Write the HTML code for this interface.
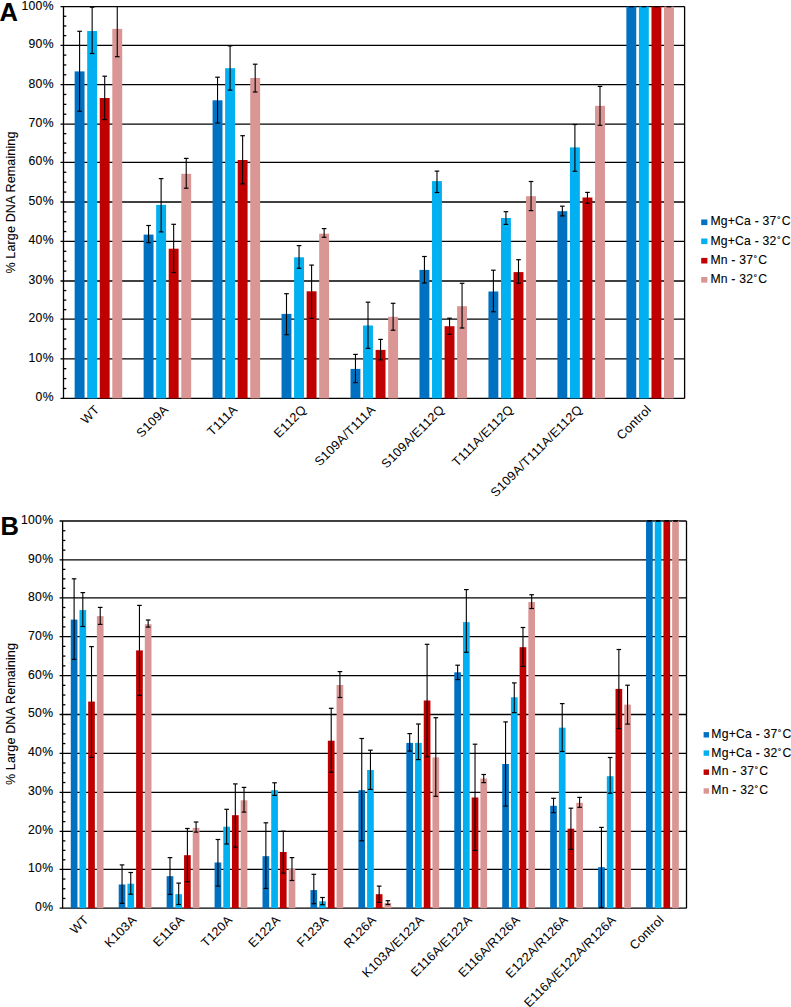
<!DOCTYPE html>
<html><head><meta charset="utf-8"><title>Large DNA Remaining</title>
<style>
html,body{margin:0;padding:0;background:#fff;}
body{width:791px;height:1007px;overflow:hidden;}
svg{display:block;}
text{font-family:"Liberation Sans", sans-serif;fill:#000;stroke:#000;stroke-width:0.1px;}
.gl{stroke:#000;stroke-width:1.3;}
.ax{stroke:#000;stroke-width:1.3;}
.eb{stroke:#000;stroke-width:1.1;}
.ec{stroke:#000;stroke-width:1.2;}
.yl{font-size:12.2px;text-anchor:end;letter-spacing:0.3px;}
.tt{font-size:12.5px;text-anchor:middle;letter-spacing:0.15px;}
.xl{font-size:12.6px;text-anchor:end;letter-spacing:0.3px;stroke:none;}
.lt{font-size:25.5px;font-weight:bold;}
.lg{font-size:12.2px;letter-spacing:0.22px;}
</style></head><body>
<svg width="791" height="1007" viewBox="0 0 791 1007">
<g>
<rect width="791" height="1007" fill="#fff"/>
<line x1="60.5" y1="6.6" x2="684.6" y2="6.6" class="gl"/>
<line x1="60.5" y1="45.3" x2="684.6" y2="45.3" class="gl"/>
<line x1="60.5" y1="84.6" x2="684.6" y2="84.6" class="gl"/>
<line x1="60.5" y1="124.1" x2="684.6" y2="124.1" class="gl"/>
<line x1="60.5" y1="162.35" x2="684.6" y2="162.35" class="gl"/>
<line x1="60.5" y1="202" x2="684.6" y2="202" class="gl"/>
<line x1="60.5" y1="241.4" x2="684.6" y2="241.4" class="gl"/>
<line x1="60.5" y1="281" x2="684.6" y2="281" class="gl"/>
<line x1="60.5" y1="319.2" x2="684.6" y2="319.2" class="gl"/>
<line x1="60.5" y1="358.8" x2="684.6" y2="358.8" class="gl"/>
<line x1="60.5" y1="398.4" x2="684.6" y2="398.4" class="gl"/>
<line x1="63.5" y1="388.5" x2="66.3" y2="388.5" class="gl"/>
<line x1="63.5" y1="378.6" x2="66.3" y2="378.6" class="gl"/>
<line x1="63.5" y1="368.7" x2="66.3" y2="368.7" class="gl"/>
<line x1="63.5" y1="348.9" x2="66.3" y2="348.9" class="gl"/>
<line x1="63.5" y1="339" x2="66.3" y2="339" class="gl"/>
<line x1="63.5" y1="329.1" x2="66.3" y2="329.1" class="gl"/>
<line x1="63.5" y1="309.65" x2="66.3" y2="309.65" class="gl"/>
<line x1="63.5" y1="300.1" x2="66.3" y2="300.1" class="gl"/>
<line x1="63.5" y1="290.55" x2="66.3" y2="290.55" class="gl"/>
<line x1="63.5" y1="271.1" x2="66.3" y2="271.1" class="gl"/>
<line x1="63.5" y1="261.2" x2="66.3" y2="261.2" class="gl"/>
<line x1="63.5" y1="251.3" x2="66.3" y2="251.3" class="gl"/>
<line x1="63.5" y1="231.55" x2="66.3" y2="231.55" class="gl"/>
<line x1="63.5" y1="221.7" x2="66.3" y2="221.7" class="gl"/>
<line x1="63.5" y1="211.85" x2="66.3" y2="211.85" class="gl"/>
<line x1="63.5" y1="192.09" x2="66.3" y2="192.09" class="gl"/>
<line x1="63.5" y1="182.18" x2="66.3" y2="182.18" class="gl"/>
<line x1="63.5" y1="172.26" x2="66.3" y2="172.26" class="gl"/>
<line x1="63.5" y1="152.79" x2="66.3" y2="152.79" class="gl"/>
<line x1="63.5" y1="143.22" x2="66.3" y2="143.22" class="gl"/>
<line x1="63.5" y1="133.66" x2="66.3" y2="133.66" class="gl"/>
<line x1="63.5" y1="114.22" x2="66.3" y2="114.22" class="gl"/>
<line x1="63.5" y1="104.35" x2="66.3" y2="104.35" class="gl"/>
<line x1="63.5" y1="94.47" x2="66.3" y2="94.47" class="gl"/>
<line x1="63.5" y1="74.77" x2="66.3" y2="74.77" class="gl"/>
<line x1="63.5" y1="64.95" x2="66.3" y2="64.95" class="gl"/>
<line x1="63.5" y1="55.12" x2="66.3" y2="55.12" class="gl"/>
<line x1="63.5" y1="35.62" x2="66.3" y2="35.62" class="gl"/>
<line x1="63.5" y1="25.95" x2="66.3" y2="25.95" class="gl"/>
<line x1="63.5" y1="16.27" x2="66.3" y2="16.27" class="gl"/>
<rect x="74.65" y="71.4" width="9.9" height="327" fill="#0070C0"/>
<rect x="87.2" y="31" width="9.9" height="367.4" fill="#00B0F0"/>
<rect x="99.75" y="98" width="9.9" height="300.4" fill="#C00000"/>
<rect x="112.3" y="28.9" width="9.9" height="369.5" fill="#D99694"/>
<rect x="143.62" y="234.6" width="9.9" height="163.8" fill="#0070C0"/>
<rect x="156.17" y="204.9" width="9.9" height="193.5" fill="#00B0F0"/>
<rect x="168.72" y="248.7" width="9.9" height="149.7" fill="#C00000"/>
<rect x="181.27" y="173.8" width="9.9" height="224.6" fill="#D99694"/>
<rect x="212.58" y="100.3" width="9.9" height="298.1" fill="#0070C0"/>
<rect x="225.13" y="68.2" width="9.9" height="330.2" fill="#00B0F0"/>
<rect x="237.68" y="160" width="9.9" height="238.4" fill="#C00000"/>
<rect x="250.23" y="78" width="9.9" height="320.4" fill="#D99694"/>
<rect x="281.54" y="313.9" width="9.9" height="84.5" fill="#0070C0"/>
<rect x="294.09" y="257.3" width="9.9" height="141.1" fill="#00B0F0"/>
<rect x="306.64" y="291.3" width="9.9" height="107.1" fill="#C00000"/>
<rect x="319.19" y="233.7" width="9.9" height="164.7" fill="#D99694"/>
<rect x="350.51" y="368.9" width="9.9" height="29.5" fill="#0070C0"/>
<rect x="363.06" y="325.5" width="9.9" height="72.9" fill="#00B0F0"/>
<rect x="375.61" y="349.9" width="9.9" height="48.5" fill="#C00000"/>
<rect x="388.16" y="316.8" width="9.9" height="81.6" fill="#D99694"/>
<rect x="419.48" y="269.9" width="9.9" height="128.5" fill="#0070C0"/>
<rect x="432.03" y="181.1" width="9.9" height="217.3" fill="#00B0F0"/>
<rect x="444.58" y="326.2" width="9.9" height="72.2" fill="#C00000"/>
<rect x="457.12" y="306.2" width="9.9" height="92.2" fill="#D99694"/>
<rect x="488.44" y="291.5" width="9.9" height="106.9" fill="#0070C0"/>
<rect x="500.99" y="218" width="9.9" height="180.4" fill="#00B0F0"/>
<rect x="513.54" y="272.1" width="9.9" height="126.3" fill="#C00000"/>
<rect x="526.09" y="196.2" width="9.9" height="202.2" fill="#D99694"/>
<rect x="557.4" y="211.2" width="9.9" height="187.2" fill="#0070C0"/>
<rect x="569.95" y="147.4" width="9.9" height="251" fill="#00B0F0"/>
<rect x="582.5" y="197.5" width="9.9" height="200.9" fill="#C00000"/>
<rect x="595.05" y="105.8" width="9.9" height="292.6" fill="#D99694"/>
<rect x="626.37" y="6.6" width="9.9" height="391.8" fill="#0070C0"/>
<rect x="638.92" y="6.6" width="9.9" height="391.8" fill="#00B0F0"/>
<rect x="651.47" y="6.6" width="9.9" height="391.8" fill="#C00000"/>
<rect x="664.02" y="6.6" width="9.9" height="391.8" fill="#D99694"/>
<line x1="79.6" y1="31.3" x2="79.6" y2="111.3" class="eb"/>
<line x1="77.3" y1="31.3" x2="81.9" y2="31.3" class="ec"/>
<line x1="77.3" y1="111.3" x2="81.9" y2="111.3" class="ec"/>
<line x1="92.15" y1="7.2" x2="92.15" y2="53.5" class="eb"/>
<line x1="89.85" y1="7.2" x2="94.45" y2="7.2" class="ec"/>
<line x1="89.85" y1="53.5" x2="94.45" y2="53.5" class="ec"/>
<line x1="104.7" y1="76.2" x2="104.7" y2="119.6" class="eb"/>
<line x1="102.4" y1="76.2" x2="107" y2="76.2" class="ec"/>
<line x1="102.4" y1="119.6" x2="107" y2="119.6" class="ec"/>
<line x1="117.25" y1="6.6" x2="117.25" y2="56.7" class="eb"/>
<line x1="114.95" y1="56.7" x2="119.55" y2="56.7" class="ec"/>
<line x1="148.56" y1="225.5" x2="148.56" y2="242.6" class="eb"/>
<line x1="146.26" y1="225.5" x2="150.87" y2="225.5" class="ec"/>
<line x1="146.26" y1="242.6" x2="150.87" y2="242.6" class="ec"/>
<line x1="161.12" y1="178.6" x2="161.12" y2="231.9" class="eb"/>
<line x1="158.81" y1="178.6" x2="163.42" y2="178.6" class="ec"/>
<line x1="158.81" y1="231.9" x2="163.42" y2="231.9" class="ec"/>
<line x1="173.66" y1="224.3" x2="173.66" y2="272.5" class="eb"/>
<line x1="171.36" y1="224.3" x2="175.97" y2="224.3" class="ec"/>
<line x1="171.36" y1="272.5" x2="175.97" y2="272.5" class="ec"/>
<line x1="186.22" y1="158.4" x2="186.22" y2="188.2" class="eb"/>
<line x1="183.91" y1="158.4" x2="188.52" y2="158.4" class="ec"/>
<line x1="183.91" y1="188.2" x2="188.52" y2="188.2" class="ec"/>
<line x1="217.53" y1="77.2" x2="217.53" y2="123" class="eb"/>
<line x1="215.23" y1="77.2" x2="219.83" y2="77.2" class="ec"/>
<line x1="215.23" y1="123" x2="219.83" y2="123" class="ec"/>
<line x1="230.08" y1="45.9" x2="230.08" y2="90.1" class="eb"/>
<line x1="227.78" y1="45.9" x2="232.38" y2="45.9" class="ec"/>
<line x1="227.78" y1="90.1" x2="232.38" y2="90.1" class="ec"/>
<line x1="242.63" y1="135.7" x2="242.63" y2="183.9" class="eb"/>
<line x1="240.33" y1="135.7" x2="244.93" y2="135.7" class="ec"/>
<line x1="240.33" y1="183.9" x2="244.93" y2="183.9" class="ec"/>
<line x1="255.18" y1="64.2" x2="255.18" y2="92" class="eb"/>
<line x1="252.88" y1="64.2" x2="257.48" y2="64.2" class="ec"/>
<line x1="252.88" y1="92" x2="257.48" y2="92" class="ec"/>
<line x1="286.49" y1="293.7" x2="286.49" y2="334.7" class="eb"/>
<line x1="284.19" y1="293.7" x2="288.79" y2="293.7" class="ec"/>
<line x1="284.19" y1="334.7" x2="288.79" y2="334.7" class="ec"/>
<line x1="299.04" y1="245.6" x2="299.04" y2="268.3" class="eb"/>
<line x1="296.74" y1="245.6" x2="301.34" y2="245.6" class="ec"/>
<line x1="296.74" y1="268.3" x2="301.34" y2="268.3" class="ec"/>
<line x1="311.59" y1="265.1" x2="311.59" y2="318.3" class="eb"/>
<line x1="309.29" y1="265.1" x2="313.89" y2="265.1" class="ec"/>
<line x1="309.29" y1="318.3" x2="313.89" y2="318.3" class="ec"/>
<line x1="324.14" y1="228.6" x2="324.14" y2="237.3" class="eb"/>
<line x1="321.84" y1="228.6" x2="326.44" y2="228.6" class="ec"/>
<line x1="321.84" y1="237.3" x2="326.44" y2="237.3" class="ec"/>
<line x1="355.46" y1="354.4" x2="355.46" y2="382.6" class="eb"/>
<line x1="353.16" y1="354.4" x2="357.76" y2="354.4" class="ec"/>
<line x1="353.16" y1="382.6" x2="357.76" y2="382.6" class="ec"/>
<line x1="368.01" y1="302.2" x2="368.01" y2="348.4" class="eb"/>
<line x1="365.71" y1="302.2" x2="370.31" y2="302.2" class="ec"/>
<line x1="365.71" y1="348.4" x2="370.31" y2="348.4" class="ec"/>
<line x1="380.56" y1="339.4" x2="380.56" y2="359.9" class="eb"/>
<line x1="378.26" y1="339.4" x2="382.86" y2="339.4" class="ec"/>
<line x1="378.26" y1="359.9" x2="382.86" y2="359.9" class="ec"/>
<line x1="393.11" y1="303.3" x2="393.11" y2="330.2" class="eb"/>
<line x1="390.81" y1="303.3" x2="395.41" y2="303.3" class="ec"/>
<line x1="390.81" y1="330.2" x2="395.41" y2="330.2" class="ec"/>
<line x1="424.43" y1="256.5" x2="424.43" y2="283" class="eb"/>
<line x1="422.12" y1="256.5" x2="426.73" y2="256.5" class="ec"/>
<line x1="422.12" y1="283" x2="426.73" y2="283" class="ec"/>
<line x1="436.98" y1="171.1" x2="436.98" y2="192.5" class="eb"/>
<line x1="434.68" y1="171.1" x2="439.28" y2="171.1" class="ec"/>
<line x1="434.68" y1="192.5" x2="439.28" y2="192.5" class="ec"/>
<line x1="449.53" y1="318.2" x2="449.53" y2="334.3" class="eb"/>
<line x1="447.23" y1="318.2" x2="451.83" y2="318.2" class="ec"/>
<line x1="447.23" y1="334.3" x2="451.83" y2="334.3" class="ec"/>
<line x1="462.07" y1="283.3" x2="462.07" y2="328" class="eb"/>
<line x1="459.77" y1="283.3" x2="464.38" y2="283.3" class="ec"/>
<line x1="459.77" y1="328" x2="464.38" y2="328" class="ec"/>
<line x1="493.39" y1="270.2" x2="493.39" y2="311.8" class="eb"/>
<line x1="491.09" y1="270.2" x2="495.69" y2="270.2" class="ec"/>
<line x1="491.09" y1="311.8" x2="495.69" y2="311.8" class="ec"/>
<line x1="505.94" y1="211.7" x2="505.94" y2="224.4" class="eb"/>
<line x1="503.64" y1="211.7" x2="508.24" y2="211.7" class="ec"/>
<line x1="503.64" y1="224.4" x2="508.24" y2="224.4" class="ec"/>
<line x1="518.49" y1="259.7" x2="518.49" y2="283.2" class="eb"/>
<line x1="516.19" y1="259.7" x2="520.79" y2="259.7" class="ec"/>
<line x1="516.19" y1="283.2" x2="520.79" y2="283.2" class="ec"/>
<line x1="531.04" y1="181.5" x2="531.04" y2="210.6" class="eb"/>
<line x1="528.74" y1="181.5" x2="533.34" y2="181.5" class="ec"/>
<line x1="528.74" y1="210.6" x2="533.34" y2="210.6" class="ec"/>
<line x1="562.36" y1="206.2" x2="562.36" y2="215.9" class="eb"/>
<line x1="560.06" y1="206.2" x2="564.65" y2="206.2" class="ec"/>
<line x1="560.06" y1="215.9" x2="564.65" y2="215.9" class="ec"/>
<line x1="574.9" y1="124.5" x2="574.9" y2="171.3" class="eb"/>
<line x1="572.61" y1="124.5" x2="577.2" y2="124.5" class="ec"/>
<line x1="572.61" y1="171.3" x2="577.2" y2="171.3" class="ec"/>
<line x1="587.46" y1="192.4" x2="587.46" y2="203.2" class="eb"/>
<line x1="585.16" y1="192.4" x2="589.75" y2="192.4" class="ec"/>
<line x1="585.16" y1="203.2" x2="589.75" y2="203.2" class="ec"/>
<line x1="600" y1="86.4" x2="600" y2="125.3" class="eb"/>
<line x1="597.71" y1="86.4" x2="602.3" y2="86.4" class="ec"/>
<line x1="597.71" y1="125.3" x2="602.3" y2="125.3" class="ec"/>
<line x1="629.02" y1="6.6" x2="633.62" y2="6.6" class="ec"/>
<line x1="629.02" y1="6.6" x2="633.62" y2="6.6" class="ec"/>
<line x1="641.57" y1="6.6" x2="646.17" y2="6.6" class="ec"/>
<line x1="641.57" y1="6.6" x2="646.17" y2="6.6" class="ec"/>
<line x1="654.12" y1="6.6" x2="658.72" y2="6.6" class="ec"/>
<line x1="654.12" y1="6.6" x2="658.72" y2="6.6" class="ec"/>
<line x1="666.67" y1="6.6" x2="671.27" y2="6.6" class="ec"/>
<line x1="666.67" y1="6.6" x2="671.27" y2="6.6" class="ec"/>
<line x1="63.5" y1="6.6" x2="63.5" y2="398.4" class="ax"/>
<line x1="684.6" y1="6.6" x2="684.6" y2="398.4" class="ax"/>
<text x="53.8" y="9.5" class="yl">100%</text>
<text x="53.8" y="48.2" class="yl">90%</text>
<text x="53.8" y="87.5" class="yl">80%</text>
<text x="53.8" y="127" class="yl">70%</text>
<text x="53.8" y="165.25" class="yl">60%</text>
<text x="53.8" y="204.9" class="yl">50%</text>
<text x="53.8" y="244.3" class="yl">40%</text>
<text x="53.8" y="283.9" class="yl">30%</text>
<text x="53.8" y="322.1" class="yl">20%</text>
<text x="53.8" y="361.7" class="yl">10%</text>
<text x="53.8" y="401.3" class="yl">0%</text>
<text transform="translate(14.6,202.5) rotate(-90)" class="tt">% Large DNA Remaining</text>
<text transform="translate(100.28,410.4) rotate(-45)" class="xl" style="letter-spacing:0.3px">WT</text>
<text transform="translate(169.25,410.4) rotate(-45)" class="xl" style="letter-spacing:0.3px">S109A</text>
<text transform="translate(238.21,410.4) rotate(-45)" class="xl" style="letter-spacing:0.3px">T111A</text>
<text transform="translate(307.18,410.4) rotate(-45)" class="xl" style="letter-spacing:0.3px">E112Q</text>
<text transform="translate(376.14,410.4) rotate(-45)" class="xl" style="letter-spacing:0.3px">S109A/T111A</text>
<text transform="translate(445.11,410.4) rotate(-45)" class="xl" style="letter-spacing:0.3px">S109A/E112Q</text>
<text transform="translate(514.07,410.4) rotate(-45)" class="xl" style="letter-spacing:0.3px">T111A/E112Q</text>
<text transform="translate(583.04,410.4) rotate(-45)" class="xl" style="letter-spacing:0.3px">S109A/T111A/E112Q</text>
<text transform="translate(652,410.4) rotate(-45)" class="xl" style="letter-spacing:0.3px">Control</text>
<text x="-0.6" y="20.8" class="lt">A</text>
<rect x="701.2" y="219.5" width="6.2" height="5.6" fill="#0070C0"/>
<text x="710.4" y="225.3" class="lg">Mg+Ca - 37<tspan dx="0.6" style="font-size:10.5px;letter-spacing:0.9px">˚</tspan>C</text>
<rect x="701.2" y="238.5" width="6.2" height="5.6" fill="#00B0F0"/>
<text x="710.4" y="244.5" class="lg">Mg+Ca - 32<tspan dx="0.6" style="font-size:10.5px;letter-spacing:0.9px">˚</tspan>C</text>
<rect x="701.2" y="257.9" width="6.2" height="5.6" fill="#C00000"/>
<text x="710.4" y="264" class="lg">Mn - 37<tspan dx="0.6" style="font-size:10.5px;letter-spacing:0.9px">˚</tspan>C</text>
<rect x="701.2" y="277" width="6.2" height="5.6" fill="#D99694"/>
<text x="710.4" y="282.8" class="lg">Mn - 32<tspan dx="0.6" style="font-size:10.5px;letter-spacing:0.9px">˚</tspan>C</text>
<line x1="59.6" y1="521" x2="686.5" y2="521" class="gl"/>
<line x1="59.6" y1="559.9" x2="686.5" y2="559.9" class="gl"/>
<line x1="59.6" y1="597.8" x2="686.5" y2="597.8" class="gl"/>
<line x1="59.6" y1="636.6" x2="686.5" y2="636.6" class="gl"/>
<line x1="59.6" y1="675.6" x2="686.5" y2="675.6" class="gl"/>
<line x1="59.6" y1="714.5" x2="686.5" y2="714.5" class="gl"/>
<line x1="59.6" y1="753.3" x2="686.5" y2="753.3" class="gl"/>
<line x1="59.6" y1="792.3" x2="686.5" y2="792.3" class="gl"/>
<line x1="59.6" y1="831.4" x2="686.5" y2="831.4" class="gl"/>
<line x1="59.6" y1="869.3" x2="686.5" y2="869.3" class="gl"/>
<line x1="59.6" y1="908.2" x2="686.5" y2="908.2" class="gl"/>
<line x1="62.6" y1="898.48" x2="65.4" y2="898.48" class="gl"/>
<line x1="62.6" y1="888.75" x2="65.4" y2="888.75" class="gl"/>
<line x1="62.6" y1="879.02" x2="65.4" y2="879.02" class="gl"/>
<line x1="62.6" y1="859.82" x2="65.4" y2="859.82" class="gl"/>
<line x1="62.6" y1="850.35" x2="65.4" y2="850.35" class="gl"/>
<line x1="62.6" y1="840.88" x2="65.4" y2="840.88" class="gl"/>
<line x1="62.6" y1="821.62" x2="65.4" y2="821.62" class="gl"/>
<line x1="62.6" y1="811.85" x2="65.4" y2="811.85" class="gl"/>
<line x1="62.6" y1="802.07" x2="65.4" y2="802.07" class="gl"/>
<line x1="62.6" y1="782.55" x2="65.4" y2="782.55" class="gl"/>
<line x1="62.6" y1="772.8" x2="65.4" y2="772.8" class="gl"/>
<line x1="62.6" y1="763.05" x2="65.4" y2="763.05" class="gl"/>
<line x1="62.6" y1="743.6" x2="65.4" y2="743.6" class="gl"/>
<line x1="62.6" y1="733.9" x2="65.4" y2="733.9" class="gl"/>
<line x1="62.6" y1="724.2" x2="65.4" y2="724.2" class="gl"/>
<line x1="62.6" y1="704.77" x2="65.4" y2="704.77" class="gl"/>
<line x1="62.6" y1="695.05" x2="65.4" y2="695.05" class="gl"/>
<line x1="62.6" y1="685.33" x2="65.4" y2="685.33" class="gl"/>
<line x1="62.6" y1="665.85" x2="65.4" y2="665.85" class="gl"/>
<line x1="62.6" y1="656.1" x2="65.4" y2="656.1" class="gl"/>
<line x1="62.6" y1="646.35" x2="65.4" y2="646.35" class="gl"/>
<line x1="62.6" y1="626.9" x2="65.4" y2="626.9" class="gl"/>
<line x1="62.6" y1="617.2" x2="65.4" y2="617.2" class="gl"/>
<line x1="62.6" y1="607.5" x2="65.4" y2="607.5" class="gl"/>
<line x1="62.6" y1="588.32" x2="65.4" y2="588.32" class="gl"/>
<line x1="62.6" y1="578.85" x2="65.4" y2="578.85" class="gl"/>
<line x1="62.6" y1="569.38" x2="65.4" y2="569.38" class="gl"/>
<line x1="62.6" y1="550.17" x2="65.4" y2="550.17" class="gl"/>
<line x1="62.6" y1="540.45" x2="65.4" y2="540.45" class="gl"/>
<line x1="62.6" y1="530.73" x2="65.4" y2="530.73" class="gl"/>
<rect x="70.76" y="619.6" width="6.7" height="288.6" fill="#0070C0"/>
<rect x="79.46" y="610.1" width="6.7" height="298.1" fill="#00B0F0"/>
<rect x="88.16" y="701.6" width="6.7" height="206.6" fill="#C00000"/>
<rect x="96.86" y="616.1" width="6.7" height="292.1" fill="#D99694"/>
<rect x="118.7" y="884.5" width="6.7" height="23.7" fill="#0070C0"/>
<rect x="127.4" y="883.7" width="6.7" height="24.5" fill="#00B0F0"/>
<rect x="136.1" y="650.4" width="6.7" height="257.8" fill="#C00000"/>
<rect x="144.8" y="624.2" width="6.7" height="284" fill="#D99694"/>
<rect x="166.64" y="876.2" width="6.7" height="32" fill="#0070C0"/>
<rect x="175.34" y="894.2" width="6.7" height="14" fill="#00B0F0"/>
<rect x="184.04" y="855.2" width="6.7" height="53" fill="#C00000"/>
<rect x="192.74" y="827.9" width="6.7" height="80.3" fill="#D99694"/>
<rect x="214.58" y="862.5" width="6.7" height="45.7" fill="#0070C0"/>
<rect x="223.28" y="826.7" width="6.7" height="81.5" fill="#00B0F0"/>
<rect x="231.98" y="815.2" width="6.7" height="93" fill="#C00000"/>
<rect x="240.68" y="800.3" width="6.7" height="107.9" fill="#D99694"/>
<rect x="262.52" y="856.2" width="6.7" height="52" fill="#0070C0"/>
<rect x="271.22" y="790.2" width="6.7" height="118" fill="#00B0F0"/>
<rect x="279.92" y="852" width="6.7" height="56.2" fill="#C00000"/>
<rect x="288.62" y="869" width="6.7" height="39.2" fill="#D99694"/>
<rect x="310.46" y="890.1" width="6.7" height="18.1" fill="#0070C0"/>
<rect x="319.16" y="901.3" width="6.7" height="6.9" fill="#00B0F0"/>
<rect x="327.86" y="740.7" width="6.7" height="167.5" fill="#C00000"/>
<rect x="336.56" y="685" width="6.7" height="223.2" fill="#D99694"/>
<rect x="358.4" y="790.2" width="6.7" height="118" fill="#0070C0"/>
<rect x="367.1" y="770" width="6.7" height="138.2" fill="#00B0F0"/>
<rect x="375.8" y="894.2" width="6.7" height="14" fill="#C00000"/>
<rect x="384.5" y="902.9" width="6.7" height="5.3" fill="#D99694"/>
<rect x="406.34" y="742.9" width="6.7" height="165.3" fill="#0070C0"/>
<rect x="415.04" y="742.9" width="6.7" height="165.3" fill="#00B0F0"/>
<rect x="423.74" y="700.5" width="6.7" height="207.7" fill="#C00000"/>
<rect x="432.44" y="757.4" width="6.7" height="150.8" fill="#D99694"/>
<rect x="454.28" y="672.3" width="6.7" height="235.9" fill="#0070C0"/>
<rect x="462.98" y="622.1" width="6.7" height="286.1" fill="#00B0F0"/>
<rect x="471.68" y="797.5" width="6.7" height="110.7" fill="#C00000"/>
<rect x="480.38" y="778.5" width="6.7" height="129.7" fill="#D99694"/>
<rect x="502.22" y="764" width="6.7" height="144.2" fill="#0070C0"/>
<rect x="510.92" y="697.3" width="6.7" height="210.9" fill="#00B0F0"/>
<rect x="519.62" y="647.2" width="6.7" height="261" fill="#C00000"/>
<rect x="528.32" y="602" width="6.7" height="306.2" fill="#D99694"/>
<rect x="550.16" y="805.8" width="6.7" height="102.4" fill="#0070C0"/>
<rect x="558.86" y="727.7" width="6.7" height="180.5" fill="#00B0F0"/>
<rect x="567.56" y="828.7" width="6.7" height="79.5" fill="#C00000"/>
<rect x="576.26" y="802.8" width="6.7" height="105.4" fill="#D99694"/>
<rect x="598.1" y="867.2" width="6.7" height="41" fill="#0070C0"/>
<rect x="606.8" y="776.2" width="6.7" height="132" fill="#00B0F0"/>
<rect x="615.5" y="688.9" width="6.7" height="219.3" fill="#C00000"/>
<rect x="624.2" y="704.6" width="6.7" height="203.6" fill="#D99694"/>
<rect x="646.04" y="521" width="6.7" height="387.2" fill="#0070C0"/>
<rect x="654.74" y="521" width="6.7" height="387.2" fill="#00B0F0"/>
<rect x="663.44" y="521" width="6.7" height="387.2" fill="#C00000"/>
<rect x="672.14" y="521" width="6.7" height="387.2" fill="#D99694"/>
<line x1="74.11" y1="578.8" x2="74.11" y2="659.4" class="eb"/>
<line x1="71.81" y1="578.8" x2="76.41" y2="578.8" class="ec"/>
<line x1="71.81" y1="659.4" x2="76.41" y2="659.4" class="ec"/>
<line x1="82.81" y1="592.6" x2="82.81" y2="626.5" class="eb"/>
<line x1="80.51" y1="592.6" x2="85.11" y2="592.6" class="ec"/>
<line x1="80.51" y1="626.5" x2="85.11" y2="626.5" class="ec"/>
<line x1="91.51" y1="646.6" x2="91.51" y2="757.4" class="eb"/>
<line x1="89.21" y1="646.6" x2="93.81" y2="646.6" class="ec"/>
<line x1="89.21" y1="757.4" x2="93.81" y2="757.4" class="ec"/>
<line x1="100.21" y1="607.4" x2="100.21" y2="624.4" class="eb"/>
<line x1="97.91" y1="607.4" x2="102.51" y2="607.4" class="ec"/>
<line x1="97.91" y1="624.4" x2="102.51" y2="624.4" class="ec"/>
<line x1="122.05" y1="864.9" x2="122.05" y2="903.4" class="eb"/>
<line x1="119.75" y1="864.9" x2="124.35" y2="864.9" class="ec"/>
<line x1="119.75" y1="903.4" x2="124.35" y2="903.4" class="ec"/>
<line x1="130.75" y1="872.5" x2="130.75" y2="894.2" class="eb"/>
<line x1="128.45" y1="872.5" x2="133.05" y2="872.5" class="ec"/>
<line x1="128.45" y1="894.2" x2="133.05" y2="894.2" class="ec"/>
<line x1="139.45" y1="605.4" x2="139.45" y2="695.4" class="eb"/>
<line x1="137.15" y1="605.4" x2="141.75" y2="605.4" class="ec"/>
<line x1="137.15" y1="695.4" x2="141.75" y2="695.4" class="ec"/>
<line x1="148.15" y1="620" x2="148.15" y2="627.1" class="eb"/>
<line x1="145.85" y1="620" x2="150.45" y2="620" class="ec"/>
<line x1="145.85" y1="627.1" x2="150.45" y2="627.1" class="ec"/>
<line x1="169.99" y1="857.6" x2="169.99" y2="894.4" class="eb"/>
<line x1="167.69" y1="857.6" x2="172.29" y2="857.6" class="ec"/>
<line x1="167.69" y1="894.4" x2="172.29" y2="894.4" class="ec"/>
<line x1="178.69" y1="883.1" x2="178.69" y2="904.5" class="eb"/>
<line x1="176.39" y1="883.1" x2="180.99" y2="883.1" class="ec"/>
<line x1="176.39" y1="904.5" x2="180.99" y2="904.5" class="ec"/>
<line x1="187.39" y1="828.5" x2="187.39" y2="881.7" class="eb"/>
<line x1="185.09" y1="828.5" x2="189.69" y2="828.5" class="ec"/>
<line x1="185.09" y1="881.7" x2="189.69" y2="881.7" class="ec"/>
<line x1="196.09" y1="822" x2="196.09" y2="832.1" class="eb"/>
<line x1="193.79" y1="822" x2="198.39" y2="822" class="ec"/>
<line x1="193.79" y1="832.1" x2="198.39" y2="832.1" class="ec"/>
<line x1="217.93" y1="839.5" x2="217.93" y2="886.1" class="eb"/>
<line x1="215.63" y1="839.5" x2="220.23" y2="839.5" class="ec"/>
<line x1="215.63" y1="886.1" x2="220.23" y2="886.1" class="ec"/>
<line x1="226.63" y1="809.3" x2="226.63" y2="844" class="eb"/>
<line x1="224.33" y1="809.3" x2="228.93" y2="809.3" class="ec"/>
<line x1="224.33" y1="844" x2="228.93" y2="844" class="ec"/>
<line x1="235.33" y1="783.9" x2="235.33" y2="847.2" class="eb"/>
<line x1="233.03" y1="783.9" x2="237.63" y2="783.9" class="ec"/>
<line x1="233.03" y1="847.2" x2="237.63" y2="847.2" class="ec"/>
<line x1="244.03" y1="787.4" x2="244.03" y2="812.1" class="eb"/>
<line x1="241.73" y1="787.4" x2="246.33" y2="787.4" class="ec"/>
<line x1="241.73" y1="812.1" x2="246.33" y2="812.1" class="ec"/>
<line x1="265.87" y1="822.8" x2="265.87" y2="888.4" class="eb"/>
<line x1="263.57" y1="822.8" x2="268.17" y2="822.8" class="ec"/>
<line x1="263.57" y1="888.4" x2="268.17" y2="888.4" class="ec"/>
<line x1="274.57" y1="782.8" x2="274.57" y2="795.4" class="eb"/>
<line x1="272.27" y1="782.8" x2="276.87" y2="782.8" class="ec"/>
<line x1="272.27" y1="795.4" x2="276.87" y2="795.4" class="ec"/>
<line x1="283.27" y1="831.2" x2="283.27" y2="873.2" class="eb"/>
<line x1="280.97" y1="831.2" x2="285.57" y2="831.2" class="ec"/>
<line x1="280.97" y1="873.2" x2="285.57" y2="873.2" class="ec"/>
<line x1="291.97" y1="857.6" x2="291.97" y2="880.5" class="eb"/>
<line x1="289.67" y1="857.6" x2="294.27" y2="857.6" class="ec"/>
<line x1="289.67" y1="880.5" x2="294.27" y2="880.5" class="ec"/>
<line x1="313.81" y1="874.3" x2="313.81" y2="903.7" class="eb"/>
<line x1="311.51" y1="874.3" x2="316.11" y2="874.3" class="ec"/>
<line x1="311.51" y1="903.7" x2="316.11" y2="903.7" class="ec"/>
<line x1="322.51" y1="897.5" x2="322.51" y2="904.7" class="eb"/>
<line x1="320.21" y1="897.5" x2="324.81" y2="897.5" class="ec"/>
<line x1="320.21" y1="904.7" x2="324.81" y2="904.7" class="ec"/>
<line x1="331.21" y1="708.3" x2="331.21" y2="772.3" class="eb"/>
<line x1="328.91" y1="708.3" x2="333.51" y2="708.3" class="ec"/>
<line x1="328.91" y1="772.3" x2="333.51" y2="772.3" class="ec"/>
<line x1="339.91" y1="671.6" x2="339.91" y2="697.5" class="eb"/>
<line x1="337.61" y1="671.6" x2="342.21" y2="671.6" class="ec"/>
<line x1="337.61" y1="697.5" x2="342.21" y2="697.5" class="ec"/>
<line x1="361.75" y1="738.5" x2="361.75" y2="840.8" class="eb"/>
<line x1="359.45" y1="738.5" x2="364.05" y2="738.5" class="ec"/>
<line x1="359.45" y1="840.8" x2="364.05" y2="840.8" class="ec"/>
<line x1="370.45" y1="750.2" x2="370.45" y2="789.4" class="eb"/>
<line x1="368.15" y1="750.2" x2="372.75" y2="750.2" class="ec"/>
<line x1="368.15" y1="789.4" x2="372.75" y2="789.4" class="ec"/>
<line x1="379.15" y1="886.1" x2="379.15" y2="902.4" class="eb"/>
<line x1="376.85" y1="886.1" x2="381.45" y2="886.1" class="ec"/>
<line x1="376.85" y1="902.4" x2="381.45" y2="902.4" class="ec"/>
<line x1="387.85" y1="900.7" x2="387.85" y2="904.5" class="eb"/>
<line x1="385.55" y1="900.7" x2="390.15" y2="900.7" class="ec"/>
<line x1="385.55" y1="904.5" x2="390.15" y2="904.5" class="ec"/>
<line x1="409.69" y1="733.6" x2="409.69" y2="751.1" class="eb"/>
<line x1="407.39" y1="733.6" x2="411.99" y2="733.6" class="ec"/>
<line x1="407.39" y1="751.1" x2="411.99" y2="751.1" class="ec"/>
<line x1="418.39" y1="724" x2="418.39" y2="759.6" class="eb"/>
<line x1="416.09" y1="724" x2="420.69" y2="724" class="ec"/>
<line x1="416.09" y1="759.6" x2="420.69" y2="759.6" class="ec"/>
<line x1="427.09" y1="644.3" x2="427.09" y2="756.8" class="eb"/>
<line x1="424.79" y1="644.3" x2="429.39" y2="644.3" class="ec"/>
<line x1="424.79" y1="756.8" x2="429.39" y2="756.8" class="ec"/>
<line x1="435.79" y1="717.7" x2="435.79" y2="796.3" class="eb"/>
<line x1="433.49" y1="717.7" x2="438.09" y2="717.7" class="ec"/>
<line x1="433.49" y1="796.3" x2="438.09" y2="796.3" class="ec"/>
<line x1="457.63" y1="665.2" x2="457.63" y2="679.6" class="eb"/>
<line x1="455.33" y1="665.2" x2="459.93" y2="665.2" class="ec"/>
<line x1="455.33" y1="679.6" x2="459.93" y2="679.6" class="ec"/>
<line x1="466.33" y1="589.6" x2="466.33" y2="652.3" class="eb"/>
<line x1="464.03" y1="589.6" x2="468.63" y2="589.6" class="ec"/>
<line x1="464.03" y1="652.3" x2="468.63" y2="652.3" class="ec"/>
<line x1="475.03" y1="744.2" x2="475.03" y2="850.5" class="eb"/>
<line x1="472.73" y1="744.2" x2="477.33" y2="744.2" class="ec"/>
<line x1="472.73" y1="850.5" x2="477.33" y2="850.5" class="ec"/>
<line x1="483.73" y1="774.5" x2="483.73" y2="782.6" class="eb"/>
<line x1="481.43" y1="774.5" x2="486.03" y2="774.5" class="ec"/>
<line x1="481.43" y1="782.6" x2="486.03" y2="782.6" class="ec"/>
<line x1="505.57" y1="721.9" x2="505.57" y2="806.1" class="eb"/>
<line x1="503.27" y1="721.9" x2="507.87" y2="721.9" class="ec"/>
<line x1="503.27" y1="806.1" x2="507.87" y2="806.1" class="ec"/>
<line x1="514.27" y1="682.9" x2="514.27" y2="712.6" class="eb"/>
<line x1="511.97" y1="682.9" x2="516.57" y2="682.9" class="ec"/>
<line x1="511.97" y1="712.6" x2="516.57" y2="712.6" class="ec"/>
<line x1="522.97" y1="627.5" x2="522.97" y2="666.4" class="eb"/>
<line x1="520.67" y1="627.5" x2="525.27" y2="627.5" class="ec"/>
<line x1="520.67" y1="666.4" x2="525.27" y2="666.4" class="ec"/>
<line x1="531.67" y1="594.7" x2="531.67" y2="608.5" class="eb"/>
<line x1="529.37" y1="594.7" x2="533.97" y2="594.7" class="ec"/>
<line x1="529.37" y1="608.5" x2="533.97" y2="608.5" class="ec"/>
<line x1="553.51" y1="798.3" x2="553.51" y2="812.6" class="eb"/>
<line x1="551.21" y1="798.3" x2="555.81" y2="798.3" class="ec"/>
<line x1="551.21" y1="812.6" x2="555.81" y2="812.6" class="ec"/>
<line x1="562.21" y1="703.6" x2="562.21" y2="751.5" class="eb"/>
<line x1="559.91" y1="703.6" x2="564.51" y2="703.6" class="ec"/>
<line x1="559.91" y1="751.5" x2="564.51" y2="751.5" class="ec"/>
<line x1="570.91" y1="808.2" x2="570.91" y2="849.3" class="eb"/>
<line x1="568.61" y1="808.2" x2="573.21" y2="808.2" class="ec"/>
<line x1="568.61" y1="849.3" x2="573.21" y2="849.3" class="ec"/>
<line x1="579.61" y1="797.4" x2="579.61" y2="807.3" class="eb"/>
<line x1="577.31" y1="797.4" x2="581.91" y2="797.4" class="ec"/>
<line x1="577.31" y1="807.3" x2="581.91" y2="807.3" class="ec"/>
<line x1="601.45" y1="827.4" x2="601.45" y2="907.5" class="eb"/>
<line x1="599.15" y1="827.4" x2="603.75" y2="827.4" class="ec"/>
<line x1="599.15" y1="907.5" x2="603.75" y2="907.5" class="ec"/>
<line x1="610.15" y1="757.5" x2="610.15" y2="793.2" class="eb"/>
<line x1="607.85" y1="757.5" x2="612.45" y2="757.5" class="ec"/>
<line x1="607.85" y1="793.2" x2="612.45" y2="793.2" class="ec"/>
<line x1="618.85" y1="649.5" x2="618.85" y2="728.6" class="eb"/>
<line x1="616.55" y1="649.5" x2="621.15" y2="649.5" class="ec"/>
<line x1="616.55" y1="728.6" x2="621.15" y2="728.6" class="ec"/>
<line x1="627.55" y1="685.2" x2="627.55" y2="724.1" class="eb"/>
<line x1="625.25" y1="685.2" x2="629.85" y2="685.2" class="ec"/>
<line x1="625.25" y1="724.1" x2="629.85" y2="724.1" class="ec"/>
<line x1="647.09" y1="521" x2="651.69" y2="521" class="ec"/>
<line x1="647.09" y1="521" x2="651.69" y2="521" class="ec"/>
<line x1="655.79" y1="521" x2="660.39" y2="521" class="ec"/>
<line x1="655.79" y1="521" x2="660.39" y2="521" class="ec"/>
<line x1="664.49" y1="521" x2="669.09" y2="521" class="ec"/>
<line x1="664.49" y1="521" x2="669.09" y2="521" class="ec"/>
<line x1="673.19" y1="521" x2="677.79" y2="521" class="ec"/>
<line x1="673.19" y1="521" x2="677.79" y2="521" class="ec"/>
<line x1="62.6" y1="521" x2="62.6" y2="908.2" class="ax"/>
<line x1="686.5" y1="521" x2="686.5" y2="908.2" class="ax"/>
<text x="53.3" y="523.9" class="yl">100%</text>
<text x="53.3" y="562.8" class="yl">90%</text>
<text x="53.3" y="600.7" class="yl">80%</text>
<text x="53.3" y="639.5" class="yl">70%</text>
<text x="53.3" y="678.5" class="yl">60%</text>
<text x="53.3" y="717.4" class="yl">50%</text>
<text x="53.3" y="756.2" class="yl">40%</text>
<text x="53.3" y="795.2" class="yl">30%</text>
<text x="53.3" y="834.3" class="yl">20%</text>
<text x="53.3" y="872.2" class="yl">10%</text>
<text x="53.3" y="911.1" class="yl">0%</text>
<text transform="translate(14.6,714) rotate(-90)" class="tt">% Large DNA Remaining</text>
<text transform="translate(89.27,920.7) rotate(-45)" class="xl" style="letter-spacing:0.2px">WT</text>
<text transform="translate(137.21,920.7) rotate(-45)" class="xl" style="letter-spacing:0.2px">K103A</text>
<text transform="translate(185.15,920.7) rotate(-45)" class="xl" style="letter-spacing:0.2px">E116A</text>
<text transform="translate(233.09,920.7) rotate(-45)" class="xl" style="letter-spacing:0.2px">T120A</text>
<text transform="translate(281.03,920.7) rotate(-45)" class="xl" style="letter-spacing:0.2px">E122A</text>
<text transform="translate(328.97,920.7) rotate(-45)" class="xl" style="letter-spacing:0.2px">F123A</text>
<text transform="translate(376.91,920.7) rotate(-45)" class="xl" style="letter-spacing:0.2px">R126A</text>
<text transform="translate(424.85,920.7) rotate(-45)" class="xl" style="letter-spacing:0.2px">K103A/E122A</text>
<text transform="translate(472.79,920.7) rotate(-45)" class="xl" style="letter-spacing:0.2px">E116A/E122A</text>
<text transform="translate(520.73,920.7) rotate(-45)" class="xl" style="letter-spacing:0.2px">E116A/R126A</text>
<text transform="translate(568.67,920.7) rotate(-45)" class="xl" style="letter-spacing:0.2px">E122A/R126A</text>
<text transform="translate(616.61,920.7) rotate(-45)" class="xl" style="letter-spacing:0.2px">E116A/E122A/R126A</text>
<text transform="translate(664.55,920.7) rotate(-45)" class="xl" style="letter-spacing:0.2px">Control</text>
<text x="0.6" y="535" class="lt">B</text>
<rect x="703.6" y="732.1" width="5.4" height="5.4" fill="#0070C0"/>
<text x="711.3" y="738.3" class="lg">Mg+Ca - 37<tspan dx="0.6" style="font-size:10.5px;letter-spacing:0.9px">˚</tspan>C</text>
<rect x="703.6" y="750.4" width="5.4" height="5.4" fill="#00B0F0"/>
<text x="711.3" y="756.8" class="lg">Mg+Ca - 32<tspan dx="0.6" style="font-size:10.5px;letter-spacing:0.9px">˚</tspan>C</text>
<rect x="703.6" y="769.5" width="5.4" height="5.4" fill="#C00000"/>
<text x="711.3" y="775.3" class="lg">Mn - 37<tspan dx="0.6" style="font-size:10.5px;letter-spacing:0.9px">˚</tspan>C</text>
<rect x="703.6" y="788.3" width="5.4" height="5.4" fill="#D99694"/>
<text x="711.3" y="793.8" class="lg">Mn - 32<tspan dx="0.6" style="font-size:10.5px;letter-spacing:0.9px">˚</tspan>C</text>
</g>
</svg>
</body></html>
